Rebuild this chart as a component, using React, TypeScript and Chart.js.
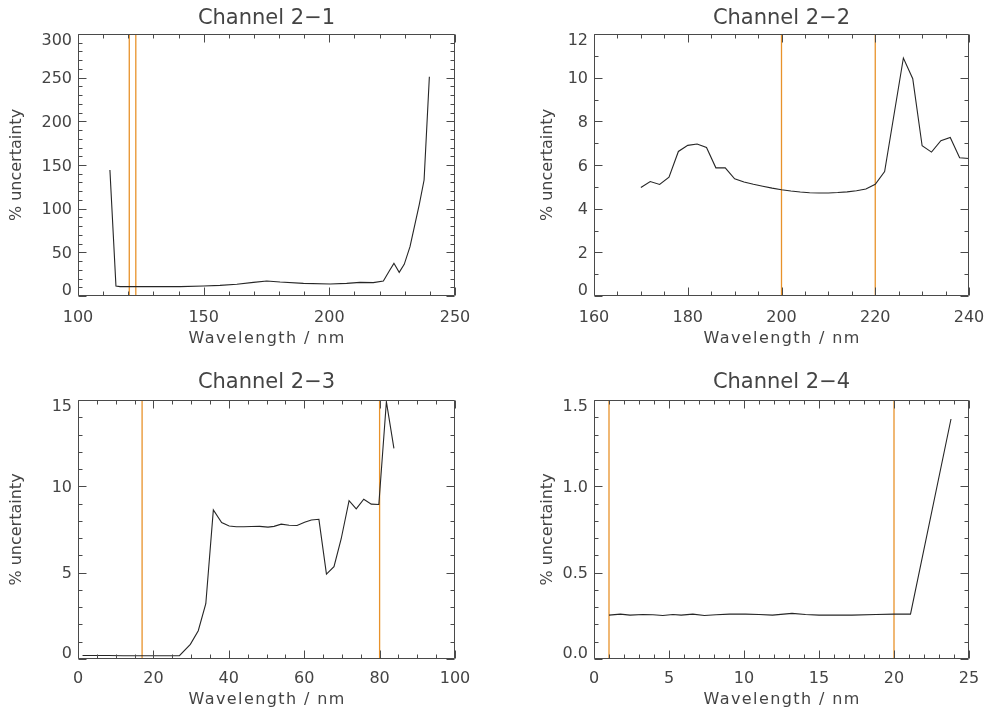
import React, { useEffect, useRef } from "react";
import { Chart, registerables } from "chart.js";
Chart.register(...registerables);

// ---------------- data ----------------
// Channel 2-1
const CH21_WAVELENGTH = [112.7, 115.1, 116.7, 130, 140.7, 149.9, 156.5, 163.2, 169.8, 175.1, 180.4, 189.7, 200.3, 206.9, 212.2, 217.5, 221.5, 223.9, 225.7, 227.8, 229.8, 232.1, 235.8, 237.7, 239.8];
const CH21_UNCERTAINTY = [144.3, 11.5, 10.7, 10.7, 10.7, 11.5, 12.2, 13.4, 15.6, 17.2, 16.0, 14.5, 13.7, 14.5, 15.6, 15.3, 17.2, 29.0, 37.4, 27.1, 36.3, 56.5, 105, 132.8, 251.1];
const CH21_MARKERS = [120.4, 123.0];
const CH21_X_TICKS = [100, 150, 200, 250];
const CH21_Y_TICKS = [0, 50, 100, 150, 200, 250, 300];

// Channel 2-2
const CH22_WAVELENGTH = [170, 172, 174, 176, 178, 180, 182, 184, 186, 188, 190, 192, 194, 196, 198, 200, 202, 204, 206, 208, 210, 212, 214, 216, 218, 220, 222, 224, 226, 228, 230, 232, 234, 236, 238, 240];
const CH22_UNCERTAINTY = [4.97, 5.24, 5.11, 5.44, 6.62, 6.9, 6.96, 6.8, 5.87, 5.87, 5.37, 5.22, 5.12, 5.03, 4.94, 4.87, 4.81, 4.76, 4.73, 4.72, 4.72, 4.74, 4.77, 4.82, 4.9, 5.12, 5.7, 8.3, 10.9, 9.95, 6.88, 6.59, 7.11, 7.26, 6.33, 6.3];
const CH22_MARKERS = [200, 220];
const CH22_X_TICKS = [160, 180, 200, 220, 240];
const CH22_Y_TICKS = [0, 2, 4, 6, 8, 10, 12];

// Channel 2-3
const CH23_WAVELENGTH = [1.2, 4, 8, 12, 16, 20, 24, 26.9, 29.8, 31.9, 33.9, 35.9, 38.1, 40.1, 42, 44, 46, 48.2, 50.4, 52, 53.9, 56, 58.1, 60.1, 61.9, 63.9, 65.9, 67.9, 69.8, 71.9, 73.8, 75.8, 77.8, 79.8, 81.8, 83.8];
const CH23_UNCERTAINTY = [0.2, 0.2, 0.2, 0.19, 0.19, 0.19, 0.19, 0.19, 0.85, 1.64, 3.2, 8.63, 7.9, 7.7, 7.66, 7.66, 7.67, 7.68, 7.64, 7.68, 7.81, 7.75, 7.73, 7.92, 8.05, 8.09, 4.92, 5.35, 6.95, 9.17, 8.69, 9.25, 8.97, 8.95, 14.9, 12.2];
const CH23_MARKERS = [17, 80];
const CH23_X_TICKS = [0, 20, 40, 60, 80, 100];
const CH23_Y_TICKS = [0, 5, 10, 15];

// Channel 2-4
const CH24_WAVELENGTH = [1.0, 1.76, 2.4, 3.26, 3.93, 4.59, 5.26, 5.81, 6.59, 7.36, 8.14, 9.03, 10.1, 11.0, 11.9, 13.2, 14.1, 15.0, 17.2, 18.8, 20.0, 21.1, 23.8];
const CH24_UNCERTAINTY = [0.254, 0.26, 0.254, 0.258, 0.256, 0.252, 0.258, 0.254, 0.26, 0.252, 0.256, 0.26, 0.26, 0.258, 0.254, 0.264, 0.258, 0.254, 0.254, 0.258, 0.26, 0.26, 1.39];
const CH24_MARKERS = [1, 20];
const CH24_X_TICKS = [0, 5, 10, 15, 20, 25];
const CH24_Y_TICKS = [0, 0.5, 1.0, 1.5];

const X_TITLE = "Wavelength / nm";
const Y_TITLE = "% uncertainty";

// ---------------- style ----------------
const FONT = '"DejaVu Sans", sans-serif';
const TEXT = "#444444";
const LINE = "#262626";
const AXIS = "#4a4a4a";
const ORANGE = "#E8922A";

type Panel = {
  title: string;
  xs: number[];
  ys: number[];
  markers: number[];
  xTicks: number[];
  yTicks: number[];
  xMinor: number;
  yMinor: number;
  yDec: number;
  left: number;
  top: number;
  width: number;
  height: number;
  areaLeft: number;
  areaRight: number;
  areaTop: number;
  areaBottom: number;
  yTitlePad: number;
  xTitleOff: number;
  titleOff: number;
  xLabelOff: number;
};

const PANELS: Panel[] = [
  {
    title: "Channel 2\u22121", xs: CH21_WAVELENGTH, ys: CH21_UNCERTAINTY, markers: CH21_MARKERS,
    xTicks: CH21_X_TICKS, yTicks: CH21_Y_TICKS, xMinor: 10, yMinor: 10, yDec: 0,
    left: 0, top: 0, width: 493, height: 358,
    areaLeft: 78, areaRight: 455, areaTop: 34, areaBottom: 296,
    yTitlePad: 7, xTitleOff: 43, titleOff: 15, xLabelOff: 22,
  },
  {
    title: "Channel 2\u22122", xs: CH22_WAVELENGTH, ys: CH22_UNCERTAINTY, markers: CH22_MARKERS,
    xTicks: CH22_X_TICKS, yTicks: CH22_Y_TICKS, xMinor: 5, yMinor: 1, yDec: 0,
    left: 493, top: 0, width: 494, height: 358,
    areaLeft: 101, areaRight: 476, areaTop: 34, areaBottom: 296,
    yTitlePad: 45, xTitleOff: 43, titleOff: 15, xLabelOff: 22,
  },
  {
    title: "Channel 2\u22123", xs: CH23_WAVELENGTH, ys: CH23_UNCERTAINTY, markers: CH23_MARKERS,
    xTicks: CH23_X_TICKS, yTicks: CH23_Y_TICKS, xMinor: 5, yMinor: 1, yDec: 0,
    left: 0, top: 358, width: 493, height: 358,
    areaLeft: 78, areaRight: 455, areaTop: 42, areaBottom: 301,
    yTitlePad: 7, xTitleOff: 41, titleOff: 17, xLabelOff: 20,
  },
  {
    title: "Channel 2\u22124", xs: CH24_WAVELENGTH, ys: CH24_UNCERTAINTY, markers: CH24_MARKERS,
    xTicks: CH24_X_TICKS, yTicks: CH24_Y_TICKS, xMinor: 1, yMinor: 0.1, yDec: 1,
    left: 493, top: 358, width: 494, height: 358,
    areaLeft: 101, areaRight: 476, areaTop: 42, areaBottom: 301,
    yTitlePad: 45, xTitleOff: 41, titleOff: 17, xLabelOff: 20,
  },
];

function minorValues(min: number, max: number, step: number): number[] {
  const out: number[] = [];
  const n = Math.round((max - min) / step);
  for (let i = 0; i <= n; i++) out.push(min + i * step);
  return out;
}

function PanelChart({ p }: { p: Panel }) {
  const ref = useRef<HTMLCanvasElement | null>(null);
  useEffect(() => {
    const canvas = ref.current;
    if (!canvas) return;
    const xMin = p.xTicks[0];
    const xMax = p.xTicks[p.xTicks.length - 1];
    const yMin = p.yTicks[0];
    const yMax = p.yTicks[p.yTicks.length - 1];

    const framePlugin = {
      id: "frame",
      afterDatasetsDraw(chart: any) {
        const { ctx, chartArea: a, scales } = chart;
        const xs = scales.x;
        const ys = scales.y;
        const L = Math.round(a.left) + 0.5;
        const R = Math.round(a.right) - 0.5;
        const T = Math.round(a.top) + 0.5;
        const B = Math.round(a.bottom) - 0.5;
        ctx.save();
        ctx.strokeStyle = AXIS;
        ctx.lineWidth = 1;
        ctx.beginPath();
        ctx.rect(L, T, R - L, B - T);
        minorValues(xMin, xMax, p.xMinor).forEach((v) => {
          const major = p.xTicks.some((t) => Math.abs(t - v) < 1e-9);
          const len = major ? 8 : 4;
          const px = Math.round(xs.getPixelForValue(v)) + 0.5;
          ctx.moveTo(px, B);
          ctx.lineTo(px, B - len);
          ctx.moveTo(px, T);
          ctx.lineTo(px, T + len);
        });
        minorValues(yMin, yMax, p.yMinor).forEach((v) => {
          const major = p.yTicks.some((t) => Math.abs(t - v) < 1e-9);
          const len = major ? 8 : 4;
          const py = Math.round(ys.getPixelForValue(v)) + 0.5;
          ctx.moveTo(L, py);
          ctx.lineTo(L + len, py);
          ctx.moveTo(R, py);
          ctx.lineTo(R - len, py);
        });
        ctx.stroke();

        ctx.fillStyle = TEXT;
        ctx.font = `16px ${FONT}`;
        ctx.textBaseline = "middle";
        ctx.textAlign = "center";
        p.xTicks.forEach((v) => {
          ctx.fillText(String(v), xs.getPixelForValue(v), a.bottom + p.xLabelOff);
        });
        ctx.textAlign = "right";
        p.yTicks.forEach((v, i) => {
          let off = 1.5;
          if (i === 0) off = -5;
          if (i === p.yTicks.length - 1) off = 7;
          ctx.fillText(v.toFixed(p.yDec), a.left - 6, ys.getPixelForValue(v) + off);
        });
        ctx.textAlign = "center";
        try {
          (ctx as any).letterSpacing = "1.4px";
        } catch (e) {}
        ctx.fillText(X_TITLE, (a.left + a.right) / 2 + 0.7, a.bottom + p.xTitleOff);
        try {
          (ctx as any).letterSpacing = "0px";
        } catch (e) {}
        ctx.font = `21px ${FONT}`;
        ctx.fillText(p.title, (a.left + a.right) / 2, a.top - p.titleOff);
        ctx.restore();
      },
    };

    const datasets: any[] = [
      {
        data: p.xs.map((x, i) => ({ x, y: p.ys[i] })),
        showLine: true,
        borderColor: LINE,
        borderWidth: 1.1,
        pointRadius: 0,
        tension: 0,
      },
      ...p.markers.map((m) => ({
        data: [
          { x: m, y: yMin },
          { x: m, y: yMax },
        ],
        showLine: true,
        borderColor: ORANGE,
        borderWidth: 1.3,
        pointRadius: 0,
        tension: 0,
      })),
    ];

    const chart = new Chart(canvas, {
      type: "scatter",
      data: { datasets },
      options: {
        animation: false,
        responsive: false,
        maintainAspectRatio: false,
        events: [],
        layout: {
          padding: { left: 0, right: p.width - p.areaRight, top: p.areaTop, bottom: 0 },
        },
        plugins: {
          legend: { display: false },
          tooltip: { enabled: false },
          title: { display: false },
        },
        scales: {
          x: {
            type: "linear",
            min: xMin,
            max: xMax,
            ticks: { display: false },
            grid: { display: false },
            border: { display: false },
            title: { display: false },
            afterFit: (s: any) => {
              s.height = p.height - p.areaBottom;
            },
          },
          y: {
            type: "linear",
            min: yMin,
            max: yMax,
            ticks: { display: false },
            grid: { display: false },
            border: { display: false },
            title: {
              display: true,
              text: Y_TITLE,
              color: TEXT,
              font: { family: FONT, size: 16 },
              padding: { top: p.yTitlePad, bottom: 0 },
            },
            afterFit: (s: any) => {
              s.width = p.areaLeft;
            },
          },
        },
      } as any,
      plugins: [framePlugin],
    });
    return () => chart.destroy();
  }, [p]);

  return (
    <canvas
      ref={ref}
      width={p.width}
      height={p.height}
      style={{ position: "absolute", left: p.left, top: p.top, width: p.width, height: p.height }}
    />
  );
}

export default function App() {
  return (
    <div style={{ position: "absolute", left: 0, top: 0, width: 987, height: 716, background: "#fff", overflow: "hidden" }}>
      {PANELS.map((p, i) => (
        <PanelChart key={i} p={p} />
      ))}
    </div>
  );
}
